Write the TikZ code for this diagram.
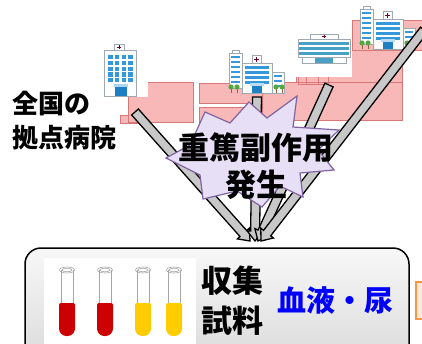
\documentclass[tikz,border=0pt]{standalone}
\usepackage{fontspec}
\newfontfamily\jp{Noto Sans CJK JP}
\usetikzlibrary{calc}

\definecolor{pinkfill}{RGB}{249,184,184}
\definecolor{pinkline}{RGB}{215,120,120}
\definecolor{winblue}{RGB}{52,152,219}
\definecolor{doorblue}{RGB}{30,128,196}
\definecolor{bandteal}{RGB}{72,160,196}
\definecolor{bldgray}{RGB}{160,168,178}
\definecolor{treegreen}{RGB}{84,168,60}
\definecolor{trunkbrown}{RGB}{140,100,60}
\definecolor{burstfill}{RGB}{231,223,246}
\definecolor{burstline}{RGB}{128,100,162}
\definecolor{arrowgray}{RGB}{200,200,200}
\definecolor{bloodred}{RGB}{204,0,0}
\definecolor{urineyellow}{RGB}{255,204,0}
\definecolor{orangeline}{RGB}{247,150,70}
\definecolor{orangefill}{RGB}{253,233,217}
\definecolor{textblue}{RGB}{0,0,255}

\tikzset{
  mapblock/.style={fill=pinkfill, draw=pinkline, line width=0.8pt},
  bld/.style={fill=white, draw=bldgray, line width=0.5pt},
  blockarrow/.style={fill=arrowgray, draw=black, line width=1.3pt, line join=miter},
  headline/.style={font=\jp\bfseries\fontsize{26}{34}\selectfont, align=left, inner sep=0pt},
  bursttext/.style={font=\jp\bfseries\fontsize{31}{37}\selectfont, align=center, inner sep=0pt},
  boxtext/.style={font=\jp\bfseries\fontsize{31}{40}\selectfont, align=center, inner sep=0pt},
  kindtext/.style={font=\jp\bfseries\fontsize{29}{36}\selectfont, inner sep=0pt, text=textblue},
  glass/.style={draw=gray!70, line width=0.6pt},
  pics/complex/.style={code={
    % left tower
    \draw[bld] (4,0) rectangle (11,3);
    \draw[bld] (1,3) rectangle (14,38);
    \foreach \k in {0,...,5} \fill[winblue] (3,6+5*\k) rectangle (12,8+5*\k);
    % sign with cross
    \draw[bld] (24,5) rectangle (33,13);
    \draw[purple!60!black, line width=0.7pt] (28.5,6.5) -- (28.5,11.5) (26,9) -- (31,9);
    % main block
    \draw[bld] (14,13) rectangle (44,43);
    \foreach \k in {0,...,3} \fill[winblue] (17,16+5*\k) rectangle (41,18.5+5*\k);
    % right wing
    \draw[bld] (44,22) rectangle (56,43);
    \foreach \k in {0,...,2} \fill[winblue] (46,25+5*\k) rectangle (54,27+5*\k);
    % entrance
    \fill[winblue!35] (22,33) rectangle (36,35.5);
    \fill[doorblue] (24,35.5) rectangle (34,43);
    % trees
    \foreach \tx in {3,9,48,54} {
      \fill[trunkbrown] (\tx-0.5,38) rectangle (\tx+0.5,43);
      \fill[treegreen] (\tx,37) circle[radius=2.6pt];
    }
  }},
}

\newcommand\blockarrow[2]{%
  \coordinate (#1-back) at ($(#2)!10pt!(#1)$);
  \draw[blockarrow]
    ($(#1)!4.5pt!90:(#2)$) -- ($(#1-back)!4.5pt!-90:(#1)$) --
    ($(#1-back)!8pt!-90:(#1)$) -- (#2) --
    ($(#1-back)!8pt!90:(#1)$) -- ($(#1-back)!4.5pt!90:(#1)$) --
    ($(#1)!4.5pt!-90:(#2)$) -- cycle;
}

\begin{document}
\begin{tikzpicture}[x=1pt,y=-1pt]
\useasboundingbox (0,0) rectangle (422,343);
\clip (0,0) rectangle (422,343);
\fill[white] (0,0) rectangle (422,343);

% simplified map blocks
\draw[mapblock] (120,115) rectangle (140,123);
\draw[mapblock] (128,82) rectangle (193,122);
\draw[mapblock] (199,83) rectangle (300,103);
\draw[mapblock] (199,107) rectangle (265,122);
\draw[mapblock] (262,82) rectangle (402,120);
\draw[mapblock] (296,50) rectangle (402,82);
\draw[mapblock] (352,20) rectangle (428,50);
\draw[pinkline, line width=0.8pt] (298,72) rectangle (328,84) (306,76) rectangle (318,84);

% tall hospital
\begin{scope}[shift={(100,43)}]
  \fill[white] (0,0) rectangle (48,54);
  \draw[bld] (14,1) rectangle (24,7);
  \draw[purple!60!black, line width=0.7pt] (19,2.2) -- (19,5.8) (17.2,4) -- (20.8,4);
  \draw[bld] (4,7) rectangle (36,53);
  \foreach \i in {0,...,3}
    \foreach \j in {0,...,4}
      \fill[winblue] (8+6.8*\i,12+5.8*\j) rectangle +(4.6,4.2);
  \fill[winblue!40] (14,41) rectangle (28,44);
  \fill[doorblue] (15,44) rectangle (27,53);
\end{scope}

% hospital complexes
\pic at (228,50) {complex};
\pic at (359,6) {complex};

% wide hospital
\begin{scope}[shift={(296,22)}]
  \fill[white] (0,0) rectangle (56,55);
  \draw[bld] (14,12) rectangle (42,17);
  \draw[purple!60!black, line width=0.7pt] (28,12.8) -- (28,16.2) (26.3,14.5) -- (29.7,14.5);
  \draw[bld] (2,17) rectangle (54,35);
  \foreach \k in {0,...,2} \fill[bandteal] (3,20+5*\k) rectangle (53,23+5*\k);
  \draw[bld] (6,35) rectangle (50,41);
  \fill[bandteal] (19,36) rectangle (37,41);
\end{scope}

% connector end points
\coordinate (s1) at (135,112);  \coordinate (t1) at (250,241);
\coordinate (s2) at (257,97);   \coordinate (t2) at (255,241);
\coordinate (s3) at (329,85);   \coordinate (t3) at (258,241);
\coordinate (s4) at (424,30);   \coordinate (t4) at (261,241);
\blockarrow{s1}{t1}
\blockarrow{s2}{t2}
\blockarrow{s3}{t3}
\blockarrow{s4}{t4}

% starburst
\draw[fill=burstfill, draw=burstline, line width=1.2pt, line join=miter]
  (166,158) -- (190,145) -- (205,112) -- (230,123) -- (249,102) -- (267,118) --
  (297,96) -- (293,127) -- (339,130) -- (318,150) -- (334,170) -- (300,173) --
  (303,197) -- (280,186) -- (262,207) -- (237,191) -- (203,199) -- (200,175) -- cycle;
\node[bursttext] (event) at (256,166) {重篤副作用\\発生};

% region label
\node[headline, anchor=north west] (sites) at (12,91) {全国の\\拠点病院};

% sample box
\draw[rounded corners=16pt, top color=gray!6, bottom color=gray!32, draw=black, line width=1.5pt]
  (25,248) rectangle (409,380);
\fill[white] (44,258) rectangle (196,350);
\foreach \cx/\col in {67/bloodred,105/bloodred,143/urineyellow,174/urineyellow} {
  \fill[\col] (\cx-8,306) [rounded corners=2pt] -- (\cx-8,303) -- (\cx+8,303) -- (\cx+8,306)
    [rounded corners=7.5pt] -- (\cx+8,336) -- (\cx-8,336) [sharp corners] -- cycle;
  \draw[glass] (\cx-6,270) -- (\cx-6,303) (\cx+6,270) -- (\cx+6,303);
  \draw[glass] (\cx,270) ellipse [x radius=7.5pt, y radius=3pt];
  \draw[glass] (\cx,270) ellipse [x radius=5pt, y radius=1.8pt];
}
\node[boxtext] (samples) at (232,301) {収集\\試料};
\node[kindtext] (kinds) at (335,300) {血液・尿};
\draw[fill=orangefill, draw=orangeline, line width=1.5pt] (416,282) rectangle (440,319);
\end{tikzpicture}
\end{document}
